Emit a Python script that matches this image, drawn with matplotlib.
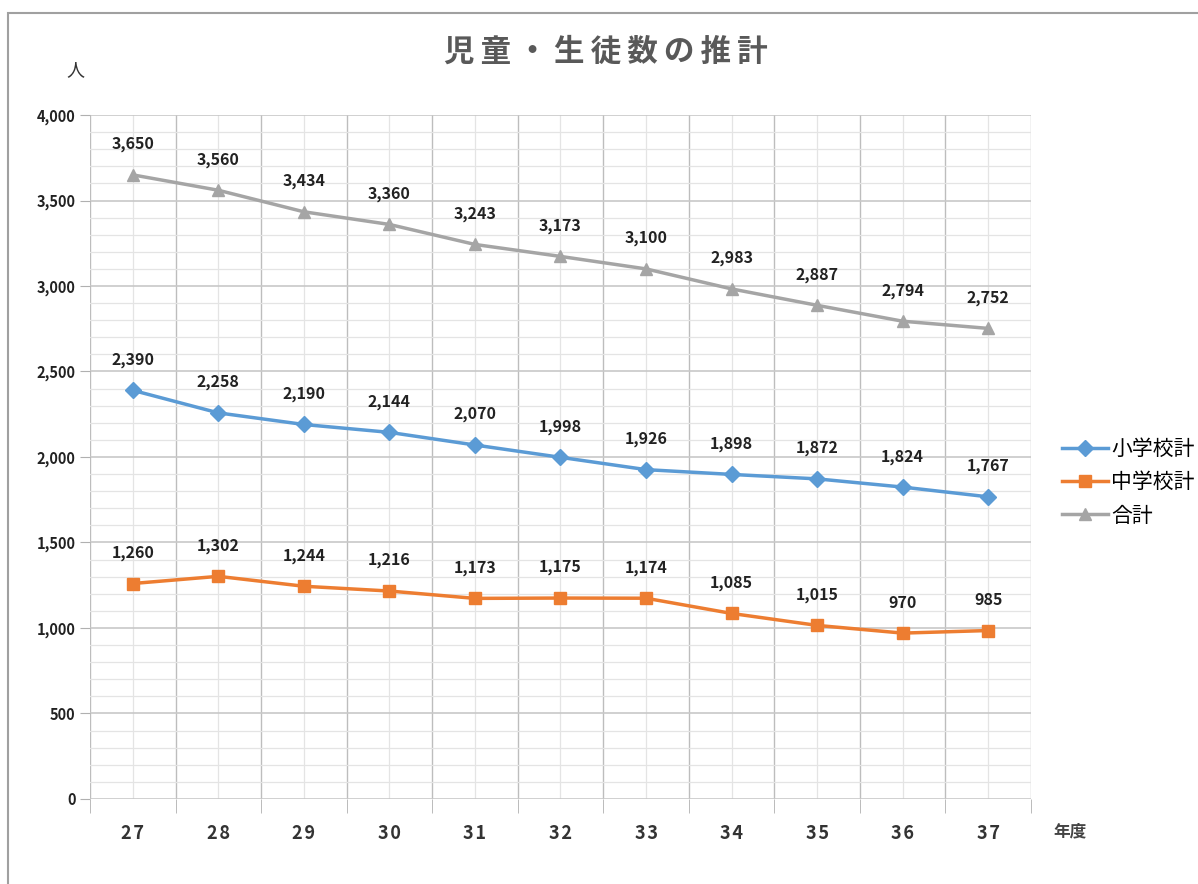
import numpy as np
import matplotlib.pyplot as plt
from matplotlib.ticker import MultipleLocator, FuncFormatter
from matplotlib.patches import Rectangle

plt.rcParams['font.family'] = ['Noto Sans CJK JP', 'DejaVu Sans']

# データ
years = ['27', '28', '29', '30', '31', '32', '33', '34', '35', '36', '37']
shogakko = [2390, 2258, 2190, 2144, 2070, 1998, 1926, 1898, 1872, 1824, 1767]
chugakko = [1260, 1302, 1244, 1216, 1173, 1175, 1174, 1085, 1015, 970, 985]
goukei = [3650, 3560, 3434, 3360, 3243, 3173, 3100, 2983, 2887, 2794, 2752]
series_names = ['小学校計', '中学校計', '合計']

fig = plt.figure(figsize=(11.98, 8.84), dpi=100)
ax = fig.add_axes([0.0751, 0.0962, 0.7855, 0.7737])

# 外枠
fig.patches.append(Rectangle((8 / 1198, -0.1), 1.2, 1 - 13 / 884 + 0.1,
                             transform=fig.transFigure, fill=False,
                             edgecolor='#a0a0a0', linewidth=1.5))

x = np.arange(len(years))
styles = [
    (shogakko, '#5B9BD5', 'D', 8),
    (chugakko, '#ED7D31', 's', 9),
    (goukei, '#A5A5A5', '^', 9),
]
for (vals, c, m, ms), name in zip(styles, series_names):
    ax.plot(x, vals, color=c, marker=m, markersize=ms, linewidth=2.5,
            label=name, zorder=3)
    for xi, v in zip(x, vals):
        ax.annotate(f'{v:,}', (xi, v), xytext=(0, 22), textcoords='offset points',
                    ha='center', va='center', fontsize=11.5, fontweight='bold',
                    color='#222222')

ax.set_xlim(-0.5, len(years) - 0.5)
ax.set_ylim(0, 4000)

# 目盛り
ax.set_xticks(x)
ax.set_xticklabels([y[0] + '\u200a' + y[1] for y in years], fontsize=13,
                   fontweight='bold', color='#333333')
ax.set_xticks(np.arange(-0.5, len(years)), minor=True)
ax.tick_params(axis='x', which='major', length=0, pad=18)
ax.tick_params(axis='x', which='minor', length=10, color='#b0b0b0')

ax.yaxis.set_major_locator(MultipleLocator(500))
ax.yaxis.set_minor_locator(MultipleLocator(100))
ax.yaxis.set_major_formatter(FuncFormatter(lambda v, p: f'{int(v):,}'))
ax.tick_params(axis='y', which='major', length=7, color='#b0b0b0',
               labelsize=10.5, labelcolor='#222222')
ax.tick_params(axis='y', which='minor', length=0)
for lbl in ax.get_yticklabels():
    lbl.set_fontweight('bold')

# グリッド
ax.grid(axis='y', which='major', color='#c8c8c8', linewidth=1.2)
ax.grid(axis='y', which='minor', color='#e4e4e4', linewidth=0.9)
for b in np.arange(-0.5, len(years)):
    ax.axvline(b, color='#bdbdbd', linewidth=1.0, zorder=1)
for xi in x:
    ax.axvline(xi, color='#e4e4e4', linewidth=0.9, zorder=1)
for s in ax.spines.values():
    s.set_visible(False)

fig.text(606 / 1198, 1 - 52 / 884, '児\u2009童\u2009・\u2009生\u2009徒\u2009数\u2009の\u2009推\u2009計',
         ha='center', va='center', fontsize=22, fontweight='bold', color='#595959',
         family=['Noto Sans CJK JP', 'DejaVu Sans'])
fig.text(75 / 1198, 1 - 70 / 884, '人', ha='center', va='center',
         fontsize=13, color='#333333')
fig.text(1070 / 1198, 1 - 831 / 884, '年度', ha='center', va='center',
         fontsize=12, fontweight='bold', color='#444444')

ax.legend(loc='center left', bbox_to_anchor=(1.033, 0.463), frameon=False,
          fontsize=15, handlelength=2.2, handletextpad=0.15, labelspacing=0.55,
          borderaxespad=0, borderpad=0)

fig.savefig('out.png', dpi=100)
